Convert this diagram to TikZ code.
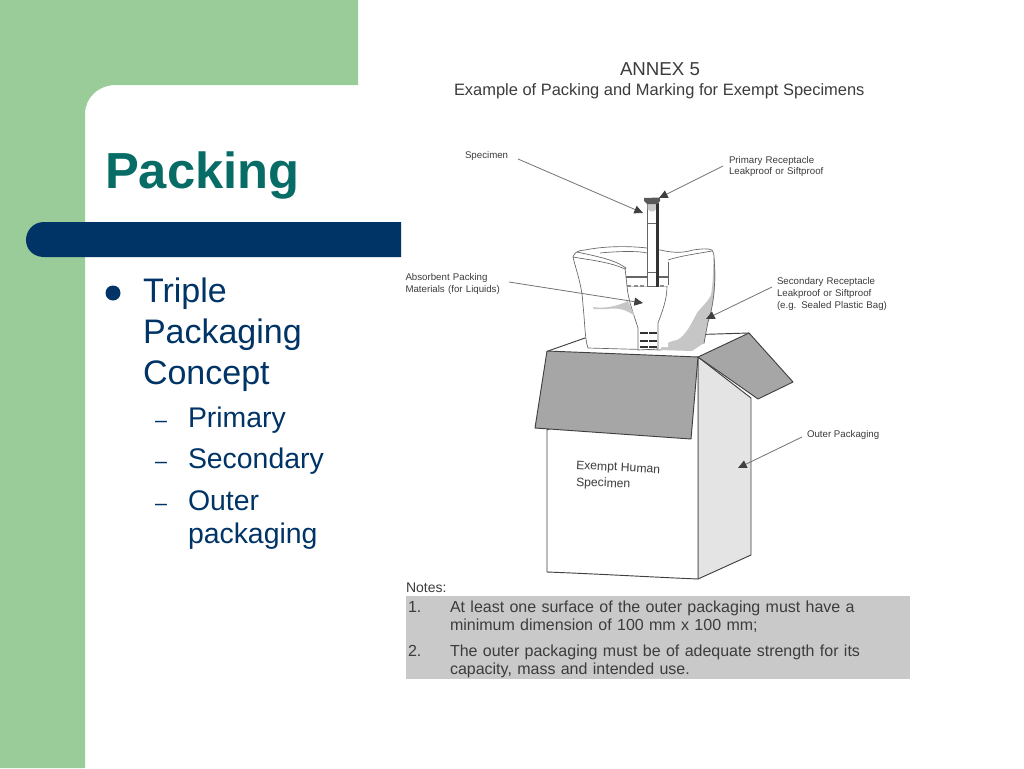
\documentclass[tikz,border=0pt]{standalone}
\usepackage{fontspec}
\setmainfont{Liberation Sans}
\usetikzlibrary{arrows.meta}
\definecolor{sidegreen}{HTML}{99CC99}
\definecolor{navy}{HTML}{003366}
\definecolor{teal2}{HTML}{076B66}
\definecolor{scantext}{HTML}{3C3C3C}
\definecolor{flapgray}{HTML}{A6A6A6}
\definecolor{sidegray}{HTML}{E4E4E4}
\definecolor{bandgray}{HTML}{C9C9C9}
\definecolor{baggray}{HTML}{C6C6C6}
\newcommand\pxf[2]{\fontsize{\fpeval{#1*0.75}}{\fpeval{#2*0.75}}\selectfont}
\tikzset{
  txt/.style={anchor=base west,inner sep=0pt,outer sep=0pt,text=scantext},
  block/.style={txt,align=left,text width=#1},
  callout/.style={draw=black!55,line width=0.6pt,-{Triangle[length=6.5pt,width=6pt,black!75]}},
  boxline/.style={draw=black!75,line width=0.7pt,line join=round},
  bagline/.style={draw=black!60,line width=0.5pt},
}
\begin{document}
\begin{tikzpicture}[x=0.75pt,y=-0.75pt]
\useasboundingbox (0,0) rectangle (1024,768);
\fill[white] (0,0) rectangle (1024,768);
% slide template
\fill[sidegreen] (0,0) -- (358,0) -- (358,85) -- (116,85) .. controls (98,85) and (85,98) .. (85,114) -- (85,768) -- (0,768) -- cycle;
\fill[navy] (401,222) -- (44,222) .. controls (33,222) and (26,231) .. (26,240) .. controls (26,249) and (33,257) .. (44,257) -- (401,257) -- cycle;
\node[txt,text=teal2,font=\pxf{50.7}{60}\bfseries] (title) at (105,188) {Packing};
% bullets
\fill[navy] (113,293) circle (7.5);
\node[block=190pt,text=navy,font=\pxf{34}{41}] (main) at (143,302) {Triple\\Packaging\\Concept};
\node[txt,text=navy,font=\pxf{21.5}{24}] (d1) at (155,427) {–};
\node[txt,text=navy,font=\pxf{21.5}{24}] (d2) at (155,468) {–};
\node[txt,text=navy,font=\pxf{21.5}{24}] (d3) at (155,510) {–};
\node[txt,text=navy,font=\pxf{28.4}{33}] (s1) at (188,427) {Primary};
\node[txt,text=navy,font=\pxf{28.4}{33}] (s2) at (188,468) {Secondary};
\node[block=150pt,text=navy,font=\pxf{28.4}{33}] (s3) at (188,510) {Outer\\packaging};
% heading of the scan
\node[txt,font=\pxf{18.7}{20}] (annex) at (620,75.5) {ANNEX 5};
\node[txt,font=\pxf{16.45}{20}] (example) at (454,95) {Example of Packing and Marking for Exempt Specimens};
% box: interior
\fill[white] (548,351) -- (585,338) -- (749,333) -- (698,357) -- cycle;
\draw[boxline] (548,351) -- (585,338);
\draw[boxline] (585,338) -- (749,333);
% bag
\draw[bagline,fill=white] (573,257) .. controls (574,253) and (578,250) .. (585,250) .. controls (610,245) and (640,246) .. (660,250) .. controls (670,252) and (680,254) .. (693,250) .. controls (700,249) and (708,248) .. (712,250) .. controls (715,253) and (714,262) .. (714,270) .. controls (714,290) and (711,310) .. (707,323) -- (704,343) -- (660,350) -- (588,348) .. controls (585,340) and (585,325) .. (583,305) .. controls (582,285) and (576,270) .. (573,257) -- cycle;
\fill[baggray] (660,350) .. controls (661,345) and (668,342) .. (677,340) .. controls (686,336) and (692,322) .. (697,313) .. controls (702,306) and (708,302) .. (711,295) .. controls (713,285) and (713,270) .. (714,256) .. controls (717,280) and (715,300) .. (708,322) -- (704,343) -- (692,351) -- cycle;
\draw[bagline] (714,258) .. controls (716,280) and (714,305) .. (708,322) -- (704,343);
\fill[white] (625,262) -- (669,262) -- (668,347) -- (626,347) -- cycle;
\draw[bagline] (573,257) .. controls (590,260) and (610,262) .. (625,269) -- (626,268) .. controls (615,260) and (600,257) .. (577,252);
\draw[bagline] (625,268) -- (626,277);
\draw[bagline] (668,262) -- (668,285);
\draw[bagline] (668,260) .. controls (680,256) and (695,254) .. (712,251);
\draw[bagline] (600,253) .. controls (620,251) and (640,251) .. (647,253);
% inner funnel
\draw[bagline,fill=white] (627,286) .. controls (628,300) and (634,315) .. (638,328) -- (638,350) -- (658,349) -- (658,323) .. controls (662,312) and (667,300) .. (667,286) -- cycle;
\fill[white] (627,277) rectangle (668,286);
\draw[bagline,line width=0.8pt] (626,277) -- (668,277);
\draw[black!45,densely dashed,line width=0.8pt] (627,286) -- (667,286);
\draw[bagline] (627,286) -- (626,277);
\fill[baggray] (593,307) .. controls (605,309) and (618,306) .. (628,301) .. controls (630,306) and (632,310) .. (635,316) .. controls (628,311) and (620,307) .. (607,309) -- (594,309) -- cycle;
\foreach \yy in {333,341,347}{\draw[black!80,line width=1.2pt,dash pattern=on 6pt off 1pt] (640,\yy) -- (657,\yy);}
% tube
\draw[bagline,fill=white] (647,203) rectangle (657,286);
\fill[bandgray] (647.5,204) -- (656.5,204) -- (656.5,209) .. controls (653,213) and (650,212) .. (647.5,209) -- cycle;
\draw[bagline] (647,223) -- (657,223);
\draw[bagline] (647,272) -- (657,272);
\draw[black!80,line width=1.6pt] (657.5,203) -- (657.5,287);
\fill[black!65] (644,198) -- (660,197.5) -- (660,201) -- (657,204) -- (647,204) -- (644,201) -- cycle;
% box: faces
\fill[white] (547,351) rectangle (698,430);
\path[boxline,fill=sidegray] (698,357) -- (751,398) -- (751,555) -- (698,579) -- cycle;
\path[boxline,fill=white] (547,430) -- (698,357) -- (698,579) .. controls (650,577) and (600,574) .. (547,572) -- cycle;
\path[boxline,fill=flapgray] (547,351) -- (698,357) -- (691,439) -- (535,428) -- cycle;
\path[boxline,fill=flapgray] (698,357) -- (749,333) -- (793,382) -- (758,399) -- cycle;
\node[txt,rotate=-3,font=\pxf{12.2}{15}] (ex1) at (576,469) {Exempt Human};
\node[txt,rotate=-2,font=\pxf{12.2}{15}] (ex2) at (576,486) {Specimen};
% callout labels
\node[txt,font=\pxf{9.7}{12}] (lspec) at (465,158) {Specimen};
\node[block=120pt,font=\pxf{9.7}{11.7}] (lprim) at (729,163) {Primary Receptacle\\Leakproof or Siftproof};
\node[block=120pt,font=\pxf{9.7}{12}] (labs) at (405.5,280) {Absorbent Packing\\Materials (for Liquids)};
\node[block=120pt,font=\pxf{9.7}{12}] (lsec) at (777,284) {Secondary Receptacle\\Leakproof or Siftproof\\(e.g. Sealed Plastic Bag)};
\node[txt,font=\pxf{9.7}{12}] (lout) at (807,437) {Outer Packaging};
% callouts
\coordinate (aspec) at (518,159); \coordinate (bspec) at (643,213);
\coordinate (aprim) at (723,166); \coordinate (bprim) at (659,198);
\coordinate (aabs) at (509,282);  \coordinate (babs) at (643,303);
\coordinate (asec) at (772,287);  \coordinate (bsec) at (706,319);
\coordinate (aout) at (802,437);  \coordinate (bout) at (738,468);
\draw[callout] (aspec) -- (bspec);
\draw[callout] (aprim) -- (bprim);
\draw[callout] (aabs) -- (babs);
\draw[callout] (asec) -- (bsec);
\draw[callout] (aout) -- (bout);
% notes
\node[txt,font=\pxf{14}{16}] (notes) at (406,592) {Notes:};
\fill[bandgray] (406,596) rectangle (910,679);
\node[txt,font=\pxf{16}{18}] (n1) at (408,612) {1.};
\node[block=420pt,font=\pxf{16}{18}] (t1) at (450,612) {At least one surface of the outer packaging must have a\\minimum dimension of 100 mm x 100 mm;};
\node[txt,font=\pxf{16}{18}] (n2) at (408,656) {2.};
\node[block=420pt,font=\pxf{16}{18.5}] (t2) at (450,656) {The outer packaging must be of adequate strength for its\\capacity, mass and intended use.};
\end{tikzpicture}
\end{document}
